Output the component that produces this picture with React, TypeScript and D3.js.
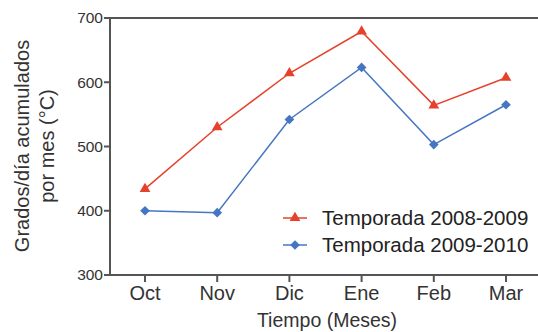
import React from "react";
import * as d3 from "d3";

const months = ["Oct", "Nov", "Dic", "Ene", "Feb", "Mar"];
const season0809 = [434, 530, 614, 679, 564, 607];
const season0910 = [400, 397, 542, 623, 503, 565];
const yTicks = [300, 400, 500, 600, 700];
const seriesNames = ["Temporada 2008-2009", "Temporada 2009-2010"];

const W = 538, H = 332;
const left = 110, right = 538, top = 18, bottom = 275;
const RED = "#e5412b";
const BLUE = "#4676c2";
const AX = "#555";
const FONT = "Liberation Sans, Arial, sans-serif";

export default function App() {
  const x = d3.scalePoint<string>().domain(months).range([145, 506]);
  const y = d3.scaleLinear().domain([300, 700]).range([bottom, top]);
  const line = d3.line<number>().x((_, i) => x(months[i])!).y((d) => y(d));
  const tri = d3.symbol().type(d3.symbolTriangle).size(50)()!;
  const dia = d3.symbol().type(d3.symbolDiamond2).size(60)()!;

  return (
    <div style={{ position: "fixed", left: 0, top: 0 }}>
      <svg width={W} height={H} style={{ display: "block", background: "#fff" }} fontFamily={FONT}>
        <line x1={left} x2={right} y1={top} y2={top} stroke={AX} strokeWidth={2} />
        <line x1={left} x2={right} y1={bottom} y2={bottom} stroke={AX} strokeWidth={2} />
        <line x1={left} x2={left} y1={top - 1} y2={bottom + 1} stroke={AX} strokeWidth={2} />
        {yTicks.map((t) => (
          <g key={t}>
            <line x1={left - 6} x2={left} y1={y(t)} y2={y(t)} stroke={AX} strokeWidth={2} />
            <text x={left - 7} y={y(t)} dy="0.35em" textAnchor="end" fontSize={15.5} fill="#333">{t}</text>
          </g>
        ))}
        {months.map((m) => (
          <g key={m}>
            <line x1={x(m)} x2={x(m)} y1={bottom} y2={bottom + 7} stroke={AX} strokeWidth={2} />
            <text x={x(m)} y={bottom + 25} textAnchor="middle" fontSize={20} fill="#333">{m}</text>
          </g>
        ))}
        <text x={327} y={327} textAnchor="middle" fontSize={19.5} fill="#333">Tiempo (Meses)</text>
        <text transform="translate(29,146) rotate(-90)" textAnchor="middle" fontSize={20} fill="#333">Grados/día acumulados</text>
        <text transform="translate(54,146) rotate(-90)" textAnchor="middle" fontSize={20} fill="#333">por mes (°C)</text>

        <path d={line(season0809)!} fill="none" stroke={RED} strokeWidth={1.5} />
        <path d={line(season0910)!} fill="none" stroke={BLUE} strokeWidth={1.5} />
        {season0809.map((v, i) => (
          <path key={"r" + i} d={tri} transform={`translate(${x(months[i])},${y(v)})`} fill={RED} />
        ))}
        {season0910.map((v, i) => (
          <path key={"b" + i} d={dia} transform={`translate(${x(months[i])},${y(v)})`} fill={BLUE} />
        ))}

        {seriesNames.map((s, i) => {
          const ly = 218 + i * 27;
          const c = i === 0 ? RED : BLUE;
          return (
            <g key={s}>
              <line x1={283} x2={307} y1={ly} y2={ly} stroke={c} strokeWidth={1.5} />
              <path d={i === 0 ? tri : dia} transform={`translate(295,${ly})`} fill={c} />
              <text x={322} y={ly} dy="0.36em" fontSize={20.5} fill="#222">{s}</text>
            </g>
          );
        })}
      </svg>
    </div>
  );
}
